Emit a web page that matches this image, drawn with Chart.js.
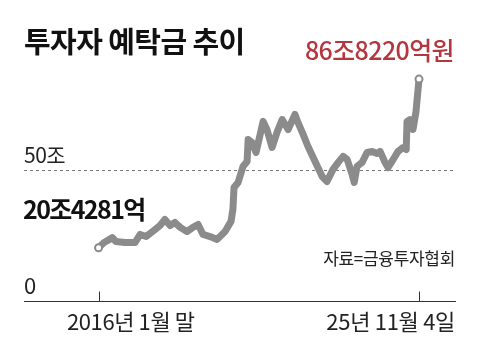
<!DOCTYPE html>
<html>
<head>
<meta charset="utf-8">
<script src="https://cdn.jsdelivr.net/npm/chart.js@4.4.0/dist/chart.umd.min.js"></script>
<style>
    html, body { margin: 0; padding: 0; background: #fff; }
    #wrap { position: relative; width: 480px; height: 362px; overflow: hidden; }
    #chart { position: absolute; left: 0; top: 0; }
    .txt { position: absolute; white-space: nowrap; font-family: "Noto Sans CJK KR", sans-serif; line-height: 1; }
</style>
</head>
<body>
<div id="wrap">
    <canvas id="chart" width="480" height="362"></canvas>
    <div class="txt" id="titulo" style="left:24px; top:26px; font-size:29px; font-weight:700; color:#111; letter-spacing:-0.6px;">투자자 예탁금 추이</div>
    <div class="txt" id="ultimo" style="right:26px; top:37px; font-size:25px; font-weight:500; color:#b4373f; letter-spacing:-0.6px;">86조8220억원</div>
    <div class="txt" style="left:24px; top:144px; font-size:21px; color:#222; letter-spacing:-0.5px;">50조</div>
    <div class="txt" style="left:23px; top:196px; font-size:25px; font-weight:700; color:#111; letter-spacing:-1.6px;">20조4281억</div>
    <div class="txt" style="right:25px; top:249px; font-size:17px; color:#222; letter-spacing:-0.3px;">자료=금융투자협회</div>
    <div class="txt" style="left:24px; top:273px; font-size:22px; color:#222;">0</div>
    <div class="txt" id="rotulo-inicio" style="left:67px; top:309px; font-size:22px; color:#222; letter-spacing:-0.4px;">2016년 1월 말</div>
    <div class="txt" id="rotulo-fim" style="right:25px; top:309px; font-size:22px; color:#222; letter-spacing:-0.3px;">25년 11월 4일</div>
</div>
<script>
// meses desde o fim de jan/2016 e valor do depósito (조원)
const meses = [0, 2, 3.1, 5, 6.4, 9.7, 13.4, 15.3, 17.5, 20.8, 22.6, 24.4, 26.3, 28.1, 30, 32.5, 34.7, 36.6, 38.4, 41, 43.6, 46.5, 48.7, 49.4, 49.8, 51.3, 53.1, 54.6, 55, 56.4, 57.9, 60.5, 61.9, 63.8, 65.6, 67.5, 69.7, 72.2, 73.3, 75.2, 77, 79.6, 82.2, 84, 86.2, 88.1, 89.9, 91.4, 93.2, 94, 95, 96.9, 98.7, 100.6, 102.4, 103.5, 105.3, 106.4, 108.3, 110.1, 111.9, 113.1, 113.4, 114.5, 115.6, 116.7, 117.8];
const deposito = [20.4, 22.4, 23.0, 24.3, 22.8, 22.4, 22.4, 25.5, 24.7, 27.4, 28.9, 31.2, 28.9, 30.1, 28.2, 26.6, 28.2, 29.3, 25.5, 24.7, 23.6, 26.6, 30.5, 35.1, 43.5, 45.4, 51.5, 53.4, 61.9, 60.7, 56.9, 68.8, 65.7, 58.8, 64.6, 69.5, 65.7, 71.5, 68.4, 63.8, 59.2, 53.4, 47.7, 45.8, 50.4, 53.1, 55.4, 54.2, 48.5, 45.4, 51.5, 53.1, 56.9, 57.3, 56.5, 57.3, 53.1, 51.1, 54.2, 57.3, 58.8, 58.0, 68.8, 69.5, 65.7, 72.6, 85.0];
const marcasX = [0, 117.8];
const linhaReferencia = 50;

const COR_LINHA = '#8b8b8b';

const pontos = meses.map((m, i) => ({ x: m, y: deposito[i] }));
const ultimo = pontos.length - 1;

// linhas do eixo, tracejado de 50조 e marcas
const eixoPlugin = {
    id: 'eixo',
    beforeDatasetsDraw(chart) {
        const { ctx, chartArea, scales } = chart;
        const yRef = Math.round(scales.y.getPixelForValue(linhaReferencia)) + 0.5;
        const y0 = Math.round(scales.y.getPixelForValue(0)) + 0.5;
        ctx.save();
        ctx.strokeStyle = '#777';
        ctx.lineWidth = 1;
        ctx.setLineDash([3, 3]);
        ctx.beginPath();
        ctx.moveTo(chartArea.left, yRef);
        ctx.lineTo(chartArea.right, yRef);
        ctx.stroke();
        ctx.setLineDash([]);
        ctx.strokeStyle = '#333';
        ctx.beginPath();
        ctx.moveTo(chartArea.left, y0);
        ctx.lineTo(chartArea.right, y0);
        marcasX.forEach(m => {
            const x = Math.round(scales.x.getPixelForValue(m)) + 0.5;
            ctx.moveTo(x, y0);
            ctx.lineTo(x, y0 - 10);
        });
        ctx.stroke();
        ctx.restore();
    }
};

new Chart(document.getElementById('chart'), {
    type: 'line',
    data: {
        datasets: [{
            data: pontos,
            borderColor: COR_LINHA,
            borderWidth: 7,
            borderJoinStyle: 'round',
            borderCapStyle: 'round',
            tension: 0,
            pointRadius: pontos.map((p, i) => (i === 0 || i === ultimo) ? 3.5 : 0),
            pointBackgroundColor: '#fff',
            pointBorderColor: COR_LINHA,
            pointBorderWidth: 2,
            clip: false
        }]
    },
    options: {
        responsive: false,
        animation: false,
        layout: { padding: { left: 24, right: 24, top: 59, bottom: 61 } },
        plugins: { legend: { display: false }, tooltip: { enabled: false } },
        scales: {
            x: { type: 'linear', display: false, min: -27.4, max: 131.4 },
            y: { display: false, min: 0, max: 92.7 }
        }
    },
    plugins: [eixoPlugin]
});
</script>
</body>
</html>
